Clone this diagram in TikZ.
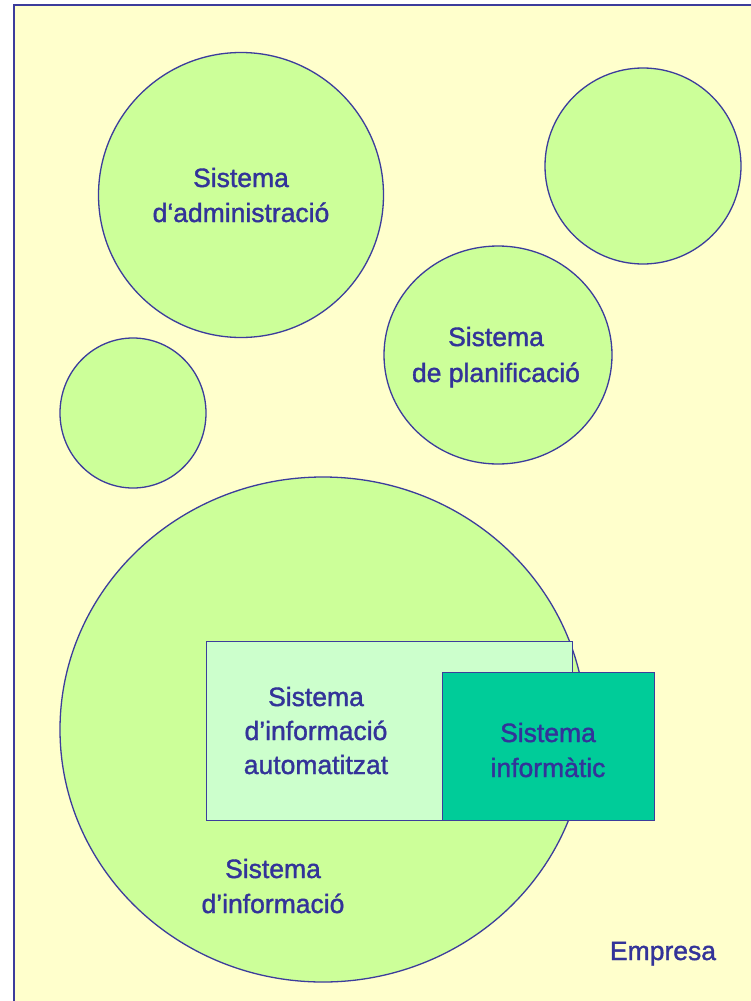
\documentclass[tikz,border=0pt]{standalone}
\usepackage{fontspec}
\setmainfont{Liberation Sans}[FakeBold=1.4]
\usetikzlibrary{shapes.geometric}
\definecolor{bgyellow}{HTML}{FFFFCC}
\definecolor{bubble}{HTML}{CCFF99}
\definecolor{paleg}{HTML}{CCFFCC}
\definecolor{tealg}{HTML}{00CC99}
\definecolor{inkblue}{HTML}{333399}
\definecolor{edgeblue}{HTML}{3C3C9C}
\tikzset{
  bubblestyle/.style={ellipse, draw=edgeblue, fill=bubble, line width=1.3pt, inner sep=0pt},
  lbl/.style={text=inkblue, font=\fontsize{26.5}{35}\selectfont, anchor=base, inner sep=0pt},
  boxstyle/.style={draw=edgeblue, line width=1.3pt, inner sep=0pt, anchor=north west}
}
\begin{document}
\begin{tikzpicture}[x=1pt,y=-1pt]
\useasboundingbox (0,0) rectangle (751,1001);
\fill[white] (0,0) rectangle (751,1001);
\begin{scope}
\clip (0,0) rectangle (751,1001);
\draw[fill=bgyellow, draw=edgeblue, line width=2pt] (14,5) rectangle (780,1030);
\end{scope}
% bubbles
\node[bubblestyle, minimum width=285pt, minimum height=285pt] (adm) at (241,195) {};
\node[bubblestyle, minimum width=196pt, minimum height=196pt] (tr) at (643,166) {};
\node[bubblestyle, minimum width=228pt, minimum height=218pt] (plan) at (498,355) {};
\node[bubblestyle, minimum width=146pt, minimum height=150pt] (sm) at (133,413) {};
\node[bubblestyle, minimum width=526pt, minimum height=505pt] (inf) at (323,729.5) {};
% boxes
\node[boxstyle, fill=paleg, minimum width=366pt, minimum height=179pt] (auto) at (206,641) {};
\node[boxstyle, fill=tealg, minimum width=212pt, minimum height=148pt] (infor) at (442,672) {};
% labels
\node[lbl] (adm1) at (241,187) {Sistema};
\node[lbl] (adm2) at (241,222) {d‘administració};
\node[lbl] (plan1) at (496,346) {Sistema};
\node[lbl] (plan2) at (496,382) {de planificació};
\node[lbl] (auto1) at (316,706) {Sistema};
\node[lbl] (auto2) at (316,740) {d’informació};
\node[lbl] (auto3) at (316,774) {automatitzat};
\node[lbl] (infor1) at (548,742) {Sistema};
\node[lbl] (infor2) at (548,777) {informàtic};
\node[lbl] (inf1) at (273,878) {Sistema};
\node[lbl] (inf2) at (273,913) {d’informació};
\node[lbl] (emp) at (663,960) {Empresa};
\end{tikzpicture}
\end{document}
